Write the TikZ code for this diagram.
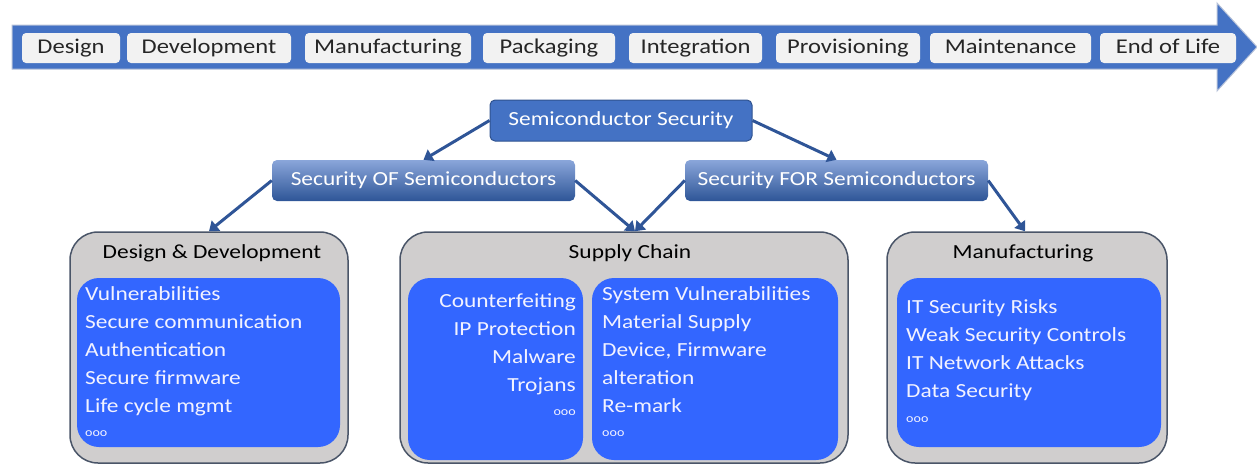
\documentclass[tikz,border=0pt]{standalone}
\usepackage{fontspec}
\setmainfont{Carlito}[FakeStretch=1.17]
\usepackage{tikz}
\usetikzlibrary{arrows.meta}

\definecolor{barblue}{HTML}{4472C4}
\definecolor{barline}{HTML}{B4C0D8}
\definecolor{stagegray}{HTML}{F2F2F2}
\definecolor{headborder}{HTML}{2F528F}
\definecolor{linkblue}{HTML}{2F5597}
\definecolor{gradtop}{HTML}{8AA6DA}
\definecolor{gradbot}{HTML}{2E5597}
\definecolor{areagray}{HTML}{D0CECE}
\definecolor{areaborder}{HTML}{4A5568}
\definecolor{itemblue}{HTML}{3366FF}
\definecolor{itemtext}{HTML}{F2F2FF}

\tikzset{
  stage/.style={fill=stagegray, rounded corners=4pt, minimum height=30pt, inner sep=0pt,
    text=black!85, text height=14pt, text depth=4pt, font=\fontsize{21}{24}\selectfont},
  head/.style={rounded corners=5pt, minimum height=41pt, minimum width=303pt, inner sep=0pt,
    text=white, text height=14pt, text depth=4pt, font=\fontsize{20}{24}\selectfont},
  area/.style={draw=areaborder, fill=areagray, line width=1.5pt, rounded corners=28pt},
  inner/.style={fill=itemblue, rounded corners=22pt},
  title/.style={anchor=base, inner sep=0pt, font=\fontsize{20}{24}\selectfont},
  item/.style={anchor=base west, inner sep=0pt, text=itemtext, font=\fontsize{20}{24}\selectfont},
  more/.style={item, font=\fontsize{12}{14}\selectfont},
  link/.style={draw=linkblue, line width=3pt, -{Triangle[length=9pt,width=13pt]}}
}

\begin{document}
\begin{tikzpicture}[x=1pt,y=-1pt]
        \useasboundingbox (0,0) rectangle (1257,464);

        % life cycle banner
        \fill[barblue, draw=barline, line width=1pt] (12,25) -- (1217,25) -- (1217,3) -- (1257,47)
            -- (1217,91) -- (1217,69) -- (12,69) -- cycle;

        \node[stage, minimum width=98pt]  (Design)  at (71,48)     {Design};
        \node[stage, minimum width=164pt] (Develop) at (209,48)    {Development};
        \node[stage, minimum width=166pt] (Manuf)   at (388,48)    {Manufacturing};
        \node[stage, minimum width=132pt] (Pack)    at (549,48)    {Packaging};
        \node[stage, minimum width=133pt] (Integ)   at (695.5,48)  {Integration};
        \node[stage, minimum width=144pt] (Prov)    at (848,48)    {Provisioning};
        \node[stage, minimum width=161pt] (Maint)   at (1010.5,48) {Maintenance};
        \node[stage, minimum width=136pt] (EoL)     at (1168,48)   {End of Life};

        % tree of security topics
        \node[head, fill=barblue, draw=headborder, line width=1pt, minimum width=262pt] (SS) at (621,120.5) {Semiconductor Security};
        \node[head, top color=gradtop, bottom color=gradbot] (OF)  at (423.5,180.5) {Security OF Semiconductors};
        \node[head, top color=gradtop, bottom color=gradbot] (FOR) at (836.5,180.5) {Security FOR Semiconductors};

        % the three areas
        \node[area, minimum width=278pt, minimum height=231pt] (DD) at (209,347.5) {};
        \node[area, minimum width=448pt, minimum height=231pt] (SC) at (624,347.5) {};
        \node[area, minimum width=280pt, minimum height=231pt] (MF) at (1027,347.5) {};

        \node[title] (DDtitle) at (212,258)  {Design \& Development};
        \node[title] (SCtitle) at (630,258)  {Supply Chain};
        \node[title] (MFtitle) at (1023,258) {Manufacturing};

        \fill[inner] (77,278) rectangle (340,447);
        \fill[inner] (408,278) rectangle (583,460);
        \fill[inner] (592,278) rectangle (838,460);
        \fill[inner] (897,278) rectangle (1161,447);

        \foreach \t [count=\i] in {Vulnerabilities, Secure communication, Authentication, Secure firmware, Life cycle mgmt}
            \node[item] (dd-\i) at (85,272+28*\i) {\t};
        \node[more] (dd-more) at (85,436) {ooo};

        \foreach \t [count=\i] in {Counterfeiting, IP Protection, Malware, Trojans}
            \node[item, anchor=base east] (scl-\i) at (576,279+28*\i) {\t};
        \node[more, anchor=base east] (scl-more) at (576,415) {ooo};

        \foreach \t [count=\i] in {System Vulnerabilities, Material Supply, {Device, Firmware}, alteration, Re-mark}
            \node[item] (scr-\i) at (602,272+28*\i) {\t};
        \node[more] (scr-more) at (602,436) {ooo};

        \foreach \t [count=\i] in {IT Security Risks, Weak Security Controls, IT Network Attacks, Data Security}
            \node[item] (mf-\i) at (906,285+28*\i) {\t};
        \node[more] (mf-more) at (906,422) {ooo};

        % links
        \draw[link] (SS.west) -- (OF.north);
        \draw[link] (SS.east) -- (FOR.north);
        \draw[link] (OF.west) -- (DD.north);
        \draw[link] (OF.east) -- ([xshift=11pt]SC.north);
        \draw[link] (FOR.west) -- ([xshift=11pt]SC.north);
        \draw[link] (FOR.east) -- ([xshift=-2pt]MF.north);
\end{tikzpicture}
\end{document}
